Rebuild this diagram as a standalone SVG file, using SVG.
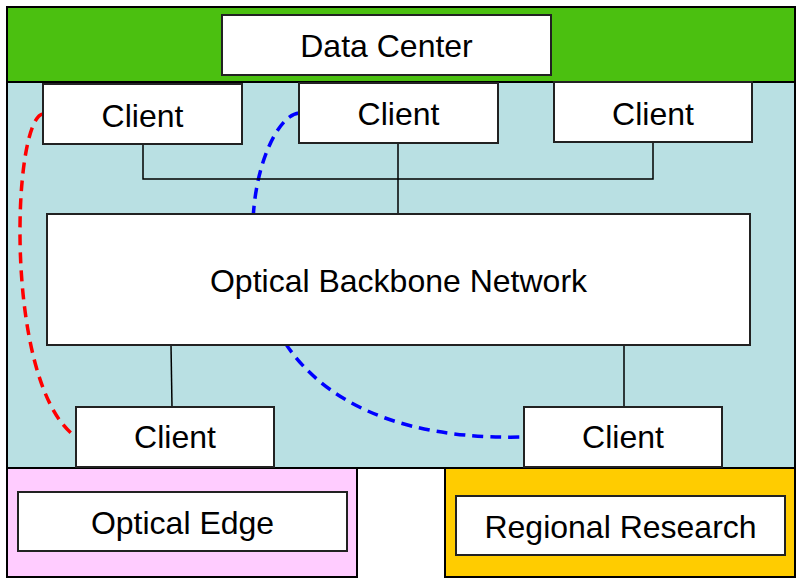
<svg xmlns="http://www.w3.org/2000/svg" width="798" height="578" viewBox="0 0 798 578">
  <style>
    .zone { stroke: #000; stroke-width: 2; }
    .box { fill: #fff; stroke: #222; stroke-width: 2; }
    .label { font-family: "Liberation Sans", Arial, sans-serif; font-size: 32px; fill: #000; text-anchor: middle; }
    .wire { fill: none; stroke: #000; stroke-width: 1.5; }
    .dash { fill: none; stroke-width: 3.5; stroke-dasharray: 11 7; }
  </style>
  <rect width="798" height="578" fill="#fff"/>

  <!-- regions -->
  <g id="zone-backbone">
    <rect class="zone" x="7" y="82" width="788" height="386" fill="#b9e0e3"/>
  </g>
  <g id="zone-datacenter">
    <rect class="zone" x="7" y="7" width="788" height="75" fill="#4bc010"/>
  </g>
  <g id="zone-edge">
    <rect class="zone" x="7" y="468" width="350" height="109" fill="#ffccff"/>
  </g>
  <g id="zone-regional">
    <rect class="zone" x="445" y="468" width="350" height="109" fill="#ffcc00"/>
  </g>

  <!-- dashed paths that pass behind the backbone -->
  <g id="paths-under">
    <path class="dash" stroke="#0000ff" d="M299,113 C245,118 170,445 523,437"/>
  </g>

  <!-- solid connectors -->
  <g id="connectors">
    <path class="wire" d="M143,144 V179 H653 V142"/>
    <path class="wire" d="M398,143 V214"/>
    <path class="wire" d="M171,345 L172,407"/>
    <path class="wire" d="M624,345 V407"/>
    <path class="dash" stroke="#ff0000" d="M43,114 C12,118 3,385 76,437"/>
  </g>

  <g id="datacenter">
    <rect class="box" x="222" y="15" width="329" height="60"/>
    <text class="label" x="386.5" y="57">Data Center</text>
  </g>
  <g id="client-1">
    <rect class="box" x="43" y="84" width="199" height="60"/>
    <text class="label" x="142.5" y="127">Client</text>
  </g>
  <g id="client-2">
    <rect class="box" x="299" y="83" width="199" height="60"/>
    <text class="label" x="398.5" y="125">Client</text>
  </g>
  <g id="client-3">
    <rect class="box" x="554" y="82" width="198" height="60"/>
    <text class="label" x="653" y="125">Client</text>
  </g>
  <g id="backbone">
    <rect class="box" x="47" y="214" width="703" height="131"/>
    <text class="label" x="398.5" y="292">Optical Backbone Network</text>
  </g>
  <g id="client-4">
    <rect class="box" x="76" y="407" width="198" height="60"/>
    <text class="label" x="175" y="448">Client</text>
  </g>
  <g id="client-5">
    <rect class="box" x="524" y="407" width="198" height="60"/>
    <text class="label" x="623" y="448">Client</text>
  </g>
  <g id="optical-edge">
    <rect class="box" x="18" y="492" width="329" height="59"/>
    <text class="label" x="182.5" y="534">Optical Edge</text>
  </g>
  <g id="regional-research">
    <rect class="box" x="456" y="496" width="329" height="59"/>
    <text class="label" x="620.5" y="538">Regional Research</text>
  </g>
</svg>
